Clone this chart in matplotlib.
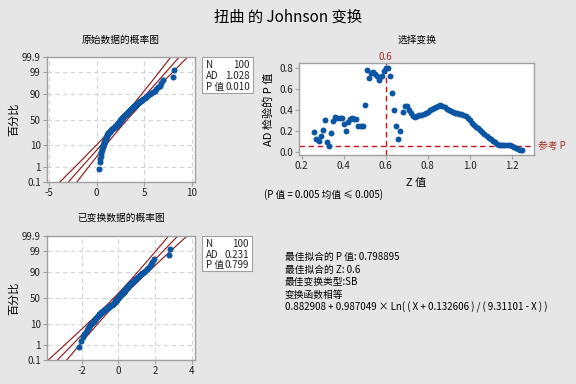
import numpy as np
import matplotlib
matplotlib.use("Agg")
import matplotlib.pyplot as plt
from matplotlib.patches import Rectangle
from statistics import NormalDist

plt.rcParams['font.family'] = ['Noto Sans CJK SC', 'DejaVu Sans']
plt.rcParams['axes.unicode_minus'] = False

# original data (sorted)
raw = [0.28, 0.33, 0.38, 0.42, 0.46, 0.50, 0.54, 0.58, 0.62, 0.66,
       0.70, 0.74, 0.77, 0.80, 0.84, 0.87, 0.90, 0.94, 0.97, 1.00,
       1.05, 1.09, 1.13, 1.17, 1.20, 1.24, 1.30, 1.36, 1.42, 1.48,
       1.54, 1.60, 1.66, 1.74, 1.82, 1.90, 1.97, 2.04, 2.10, 2.15,
       2.18, 2.22, 2.26, 2.30, 2.34, 2.38, 2.42, 2.46, 2.50, 2.54,
       2.58, 2.62, 2.66, 2.71, 2.76, 2.81, 2.87, 2.92, 2.98, 3.03,
       3.09, 3.14, 3.20, 3.25, 3.31, 3.37, 3.42, 3.48, 3.54, 3.60,
       3.66, 3.72, 3.78, 3.85, 3.92, 4.00, 4.09, 4.18, 4.27, 4.37,
       4.47, 4.58, 4.70, 4.81, 4.92, 5.04, 5.16, 5.29, 5.43, 5.58,
       5.74, 5.92, 6.10, 6.28, 6.46, 6.62, 6.75, 6.95, 8.08, 8.12]

# Johnson SB transform shown in the chart text
gamma, eta, eps, lam_end = 0.882908, 0.987049, 0.132606, 9.31101

# Z values tried and AD p-values (top-right panel)
z_values = np.round(np.arange(26, 126) / 100, 2)
p_values = [0.19, 0.12, 0.10, 0.15, 0.21, 0.30, 0.09, 0.055, 0.18, 0.29,
            0.33, 0.32, 0.32, 0.32, 0.265, 0.20, 0.28, 0.31, 0.32, 0.31,
            0.31, 0.25, 0.25, 0.25, 0.445, 0.78, 0.70, 0.75, 0.76, 0.74,
            0.72, 0.69, 0.72, 0.77, 0.799, 0.80, 0.72, 0.56, 0.40, 0.25,
            0.12, 0.20, 0.38, 0.44, 0.44, 0.40, 0.37, 0.34, 0.33, 0.34,
            0.35, 0.355, 0.36, 0.37, 0.38, 0.40, 0.41, 0.42, 0.43, 0.44,
            0.45, 0.44, 0.43, 0.41, 0.40, 0.39, 0.38, 0.37, 0.365, 0.36,
            0.36, 0.355, 0.34, 0.32, 0.30, 0.27, 0.255, 0.24, 0.23, 0.21,
            0.19, 0.17, 0.15, 0.135, 0.12, 0.105, 0.09, 0.075, 0.065, 0.065,
            0.065, 0.065, 0.065, 0.06, 0.05, 0.04, 0.035, 0.025, 0.02, 0.02]
best_z = 0.6
ref_p = 0.05

pct_ticks = [0.1, 1, 10, 50, 90, 99, 99.9]
pct_labels = ['0.1', '1', '10', '50', '90', '99', '99.9']

raw_stats = [('N', '100'), ('AD', '1.028'), ('P 值', '0.010')]
trn_stats = [('N', '100'), ('AD', '0.231'), ('P 值', '0.799')]

info_lines = ['最佳拟合的 P 值: 0.798895',
              '最佳拟合的 Z: 0.6',
              '最佳变换类型:SB',
              '变换函数相等',
              '0.882908 + 0.987049 × Ln( ( X + 0.132606 ) / ( 9.31101 - X ) )']

W, H = 576, 384
BG = '#e6e6e6'
BLUE = '#0a56a4'
DRED = '#8b1010'
SPINE = '#a0a0a0'
nd = NormalDist()


def fx(px):
    return px / W


def fy(py):
    return 1 - py / H


def box(l, t, r, b):
    return [fx(l), fy(b), (r - l) / W, (b - t) / H]


def style(ax):
    for s in ax.spines.values():
        s.set_color(SPINE)
        s.set_linewidth(1.0)
    ax.tick_params(labelsize=7, length=3, width=0.8, color=SPINE, pad=1.5,
                   labelcolor='#222222')


def prob_plot(ax, data, xlim, xticks):
    x = np.sort(np.asarray(data))
    n = len(x)
    pp = (np.arange(1, n + 1) - 0.3) / (n + 0.4)
    z = np.array([nd.inv_cdf(p) for p in pp])
    mu, sd = x.mean(), x.std(ddof=1)
    zz = np.linspace(-3.5, 3.5, 300)
    fit = mu + zz * sd
    half = 1.96 * sd / np.sqrt(n) * np.sqrt(1 + zz ** 2 / 2)
    for line in (fit, fit - half, fit + half):
        ax.plot(line, zz, color=DRED, lw=0.8, zorder=2)
    ax.scatter(x, z, s=19, color=BLUE, lw=0, zorder=3)
    ax.set_yticks([nd.inv_cdf(p / 100) for p in pct_ticks], labels=pct_labels)
    ax.set_ylim(nd.inv_cdf(0.001), nd.inv_cdf(0.999))
    ax.set_xlim(*xlim)
    ax.set_xticks(xticks)
    ax.grid(True, ls=(0, (4, 3)), color='#d4d4d4', lw=0.8, zorder=0)
    ax.set_ylabel('百分比', fontsize=8, labelpad=2)
    style(ax)


def stats_box(fig, l, t, r, b, rows):
    fig.patches.append(Rectangle((fx(l), fy(b)), (r - l) / W, (b - t) / H,
                                 transform=fig.transFigure, facecolor='white',
                                 edgecolor=SPINE, lw=0.8))
    step = (b - t) / 3.3
    for k, (name, val) in enumerate(rows):
        yy = fy(t + step * (k + 0.75))
        fig.text(fx(l + 4), yy, name, fontsize=7, va='center', ha='left', color='#222222')
        fig.text(fx(r - 3), yy, val, fontsize=7, va='center', ha='right', color='#222222')


fig = plt.figure(figsize=(W / 100, H / 100), dpi=100, facecolor=BG)

fig.text(0.5, fy(17), '扭曲 的 Johnson 变换', fontsize=11, ha='center', va='center')

# top-left: original data
ax1 = fig.add_axes(box(47, 57, 195, 182))
prob_plot(ax1, raw, (-5.23, 10.35), [-5, 0, 5, 10])
fig.text(fx(121), fy(40), '原始数据的概率图', fontsize=7, ha='center', va='center')
stats_box(fig, 202, 57, 253, 93, raw_stats)

# bottom-left: transformed data
raw_arr = np.asarray(raw)
trn = gamma + eta * np.log((raw_arr + eps) / (lam_end - raw_arr))
ax2 = fig.add_axes(box(47, 236, 195, 360))
prob_plot(ax2, trn, (-3.9, 4.18), [-2, 0, 2, 4])
fig.text(fx(121), fy(218), '已变换数据的概率图', fontsize=7, ha='center', va='center')
stats_box(fig, 202, 236, 252, 271, trn_stats)

# top-right: p-value vs Z
ax3 = fig.add_axes(box(299, 63, 534, 155))
ax3.scatter(z_values, p_values, s=18, color=BLUE, lw=0, zorder=3)
ax3.axvline(best_z, color='#c8141e', ls=(0, (4, 2.5)), lw=1.0, zorder=2)
ax3.axhline(ref_p, color='#c8141e', ls=(0, (4, 2.5)), lw=1.0, zorder=2)
ax3.set_xlim(0.187, 1.306)
ax3.set_ylim(-0.032, 0.848)
ax3.set_xticks([0.2, 0.4, 0.6, 0.8, 1.0, 1.2])
ax3.set_yticks([0.0, 0.2, 0.4, 0.6, 0.8])
ax3.xaxis.set_major_formatter(matplotlib.ticker.FormatStrFormatter('%.1f'))
ax3.yaxis.set_major_formatter(matplotlib.ticker.FormatStrFormatter('%.1f'))
ax3.set_xlabel('Z 值', fontsize=8, labelpad=5)
ax3.set_ylabel('AD 检验的 P 值', fontsize=8, labelpad=4)
style(ax3)
ax3.text(best_z, 1.01, str(best_z), transform=ax3.get_xaxis_transform(),
         ha='center', va='bottom', fontsize=7, color='#a03028')
ax3.text(1.015, ref_p, '参考 P', transform=ax3.get_yaxis_transform(),
         ha='left', va='center', fontsize=7, color='#a03028')
fig.text(fx(417), fy(40), '选择变换', fontsize=7, ha='center', va='center')
fig.text(fx(264), fy(195), '(P 值 = 0.005 均值 ≤ 0.005)', fontsize=7,
         ha='left', va='center')

# best-fit summary text
for k, line in enumerate(info_lines):
    fig.text(fx(285), fy(257 + 12.5 * k), line, fontsize=7, ha='left', va='center')

fig.savefig('out.png', dpi=100, facecolor=BG)
